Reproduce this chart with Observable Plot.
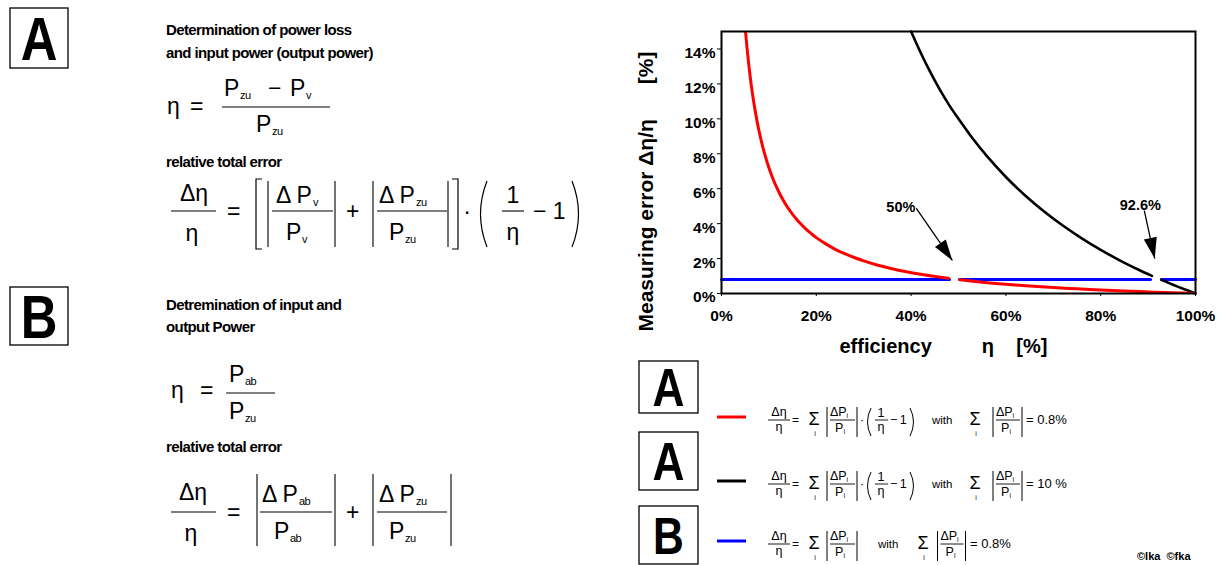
<!DOCTYPE html>
<html><head><meta charset="utf-8">
<script src="https://cdn.jsdelivr.net/npm/d3@7"></script>
<script src="https://cdn.jsdelivr.net/npm/@observablehq/plot@0.6"></script>
<style>
html,body{margin:0;padding:0;background:#fff;}
#wrap{position:relative;width:1231px;height:565px;overflow:hidden;font-family:"Liberation Sans",Arial,Helvetica,sans-serif;}
#chart{position:absolute;left:630px;top:0;}
#ov{position:absolute;left:0;top:0;}
</style></head><body><div id="wrap"><div id="chart"></div></div>
<script>
// ---------------- data ----------------
const etaTicks = [0, 20, 40, 60, 80, 100];
const errTicks = [0, 2, 4, 6, 8, 10, 12, 14];

// curve A, sum |dPi/Pi| = 0.8 %  (red)
const redEta1 = [5.0, 5.5, 6, 6.5, 7, 7.5, 8, 9, 10, 11, 12, 13, 14, 15, 16, 17, 18, 19, 20, 22, 24, 26, 28, 30, 33, 36, 39, 42, 45, 47.9];
const redErr1 = [15.2, 13.75, 12.53, 11.5, 10.63, 9.87, 9.2, 8.09, 7.2, 6.47, 5.87, 5.35, 4.91, 4.53, 4.2, 3.91, 3.64, 3.41, 3.2, 2.84, 2.53, 2.28, 2.06, 1.87, 1.62, 1.42, 1.25, 1.10, 0.98, 0.87];
const redEta2 = [50.3, 55, 60, 65, 70, 75, 80, 85, 90, 95, 100];
const redErr2 = [0.79, 0.65, 0.53, 0.43, 0.34, 0.27, 0.20, 0.14, 0.09, 0.04, 0.0];

// curve A, sum |dPi/Pi| = 10 %  (black)
const blackEta1 = [40, 42, 44, 46, 48, 50, 53, 56, 60, 64, 68, 72, 76, 80, 84, 88, 90.8];
const blackErr1 = [15.0, 13.8, 12.7, 11.7, 10.8, 10.0, 8.87, 7.86, 6.67, 5.63, 4.71, 3.89, 3.16, 2.5, 1.9, 1.36, 1.01];
const blackEta2 = [92.8, 95, 97.5, 100];
const blackErr2 = [0.78, 0.53, 0.26, 0.0];

// curve B, sum |dPi/Pi| = 0.8 %  (blue)
const blueEta1 = [0, 48.1], blueErr1 = [0.8, 0.8];
const blueEta2 = [50.2, 90.5], blueErr2 = [0.8, 0.8];
const blueEta3 = [92.8, 100], blueErr3 = [0.8, 0.8];

// annotations
const noteText = ["50%", "92.6%"];
const noteX = [40.9, 92.7], noteY = [4.92, 5.04];
const arrowX1 = [41.1, 89.2], arrowY1 = [4.87, 4.75];
const arrowX2 = [48.7, 91.4], arrowY2 = [1.89, 2.0];

const yLabel = "Measuring error \u0394\u03b7/\u03b7" + "\u00a0".repeat(6) + "[%]";
const xLabel = "efficiency" + "\u00a0".repeat(9) + "\u03b7" + "\u00a0".repeat(4) + "[%]";

// ---------------- build tables ----------------
const rows = [];
function addSeg(series, seg, etas, errs) { etas.forEach((e, i) => rows.push({series, seg: series + seg, eta: e, err: errs[i]})); }
addSeg("red", 1, redEta1, redErr1); addSeg("red", 2, redEta2, redErr2);
addSeg("black", 1, blackEta1, blackErr1); addSeg("black", 2, blackEta2, blackErr2);
addSeg("blue", 1, blueEta1, blueErr1); addSeg("blue", 2, blueEta2, blueErr2); addSeg("blue", 3, blueEta3, blueErr3);
const notes = noteText.map((t, i) => ({t, x: noteX[i], y: noteY[i], x1: arrowX1[i], y1: arrowY1[i], x2: arrowX2[i], y2: arrowY2[i]}));

const NS = "http://www.w3.org/2000/svg";
function headMarker(color, context) {
  const doc = (context && context.document) || document;
  const m = doc.createElementNS(NS, "marker");
  m.setAttribute("viewBox", "-22 -8 23 16");
  m.setAttribute("markerWidth", 23); m.setAttribute("markerHeight", 16);
  m.setAttribute("markerUnits", "userSpaceOnUse");
  m.setAttribute("refX", 0); m.setAttribute("refY", 0);
  m.setAttribute("orient", "auto");
  m.setAttribute("overflow", "visible");
  const p = doc.createElementNS(NS, "path");
  p.setAttribute("d", "M0,0L-21,-6.6L-21,6.6Z");
  p.setAttribute("fill", color); p.setAttribute("stroke", "none");
  m.appendChild(p);
  return m;
}

const FONT = "'Liberation Sans', Arial, Helvetica, sans-serif";
const chart = Plot.plot({
  width: 601, height: 370,
  marginLeft: 91, marginRight: 36, marginTop: 31, marginBottom: 77,
  style: {fontFamily: FONT, fontWeight: "bold", fontSize: "15.5px", background: "transparent", overflow: "visible", color: "#000"},
  x: {domain: [0, 100]},
  y: {domain: [0, 15]},
  marks: [
    Plot.axisX({ticks: etaTicks, tickSize: 3, tickPadding: 13, tickFormat: d => d + "%", label: null, fontSize: 15.5}),
    Plot.axisY({ticks: errTicks, tickSize: 4, tickFormat: () => "", label: null}),
    Plot.axisY({ticks: errTicks, tickSize: 0, tickPadding: 6, tickFormat: d => d + "%", label: null, dy: 4, fontSize: 15.5}),
    Plot.line(rows.filter(d => d.series === "blue"), {x: "eta", y: "err", z: "seg", stroke: "#0000ff", strokeWidth: 3}),
    Plot.line(rows.filter(d => d.series === "black"), {x: "eta", y: "err", z: "seg", stroke: "#000000", strokeWidth: 2.6, curve: "catmull-rom"}),
    Plot.line(rows.filter(d => d.series === "red"), {x: "eta", y: "err", z: "seg", stroke: "#ff0000", strokeWidth: 3, curve: "catmull-rom", clip: true}),
    Plot.frame({stroke: "#000", strokeWidth: 2}),
    Plot.link(notes, {x1: "x1", y1: "y1", x2: "x2", y2: "y2", stroke: "#000", strokeWidth: 1.3, markerEnd: headMarker}),
    Plot.text(notes, {x: "x", y: "y", text: "t", textAnchor: "end", fontSize: 14.5, fontWeight: "bold"}),
    Plot.text([yLabel], {text: d => d, frameAnchor: "left", rotate: -90, dx: -75, dy: 29, fontSize: 21, fontWeight: "bold", textAnchor: "middle"}),
    Plot.text([xLabel], {text: d => d, frameAnchor: "bottom-left", dx: 118, dy: 53, fontSize: 20, fontWeight: "bold", textAnchor: "start", lineAnchor: "middle"})
  ]
});
document.getElementById("chart").appendChild(chart);

// ---------------- formulas / legend (text) ----------------
const ov = d3.select("#wrap").append("svg").attr("id", "ov").attr("width", 1231).attr("height", 565)
  .attr("font-family", FONT).attr("fill", "#000");
function T(x, y, s, size, o = {}) {
  const t = ov.append("text").attr("font-size", size).text(s);
  if (o.sx) t.attr("transform", `translate(${x},${y}) scale(${o.sx},1)`);
  else t.attr("x", x).attr("y", y);
  if (o.anchor) t.attr("text-anchor", o.anchor);
  if (o.bold) t.attr("font-weight", "bold");
  if (o.ls != null) t.attr("letter-spacing", o.ls);
  return t;
}
function L(x1, y1, x2, y2, w = 1.1, c = "#000") {
  ov.append("line").attr("x1", x1).attr("y1", y1).attr("x2", x2).attr("y2", y2).attr("stroke", c).attr("stroke-width", w);
}
function Pth(d, w = 1.2) { ov.append("path").attr("d", d).attr("fill", "none").attr("stroke", "#000").attr("stroke-width", w); }
function box(x, y, w, h, letter, size, cy) {
  ov.append("rect").attr("x", x).attr("y", y).attr("width", w).attr("height", h).attr("fill", "none").attr("stroke", "#000").attr("stroke-width", 1.3);
  T(x + w / 2, (cy != null ? cy : y + h / 2) + size * 0.358, letter, size, {anchor: "middle", bold: true, sx: 0.82});
}
const F = 23, S = 11, H = 15;
const hs = {bold: true, ls: -0.6};

// ---- A (left) ----
box(10, 8, 58, 60, "A", 62);
T(166, 35, "Determination of power loss", H, hs);
T(166, 58, "and input power (output power)", H, hs);
T(167, 114, "\u03b7", F); T(190, 114, "=", F);
T(224, 96, "P", F); T(240, 99, "zu", S, {ls: -0.6});
T(268, 96, "\u2212", F); T(290, 96, "P", F); T(306, 99, "v", S);
L(222, 107, 330, 107);
T(256, 132, "P", F); T(272, 135, "zu", S, {ls: -0.6});
T(166, 167, "relative total error", H, hs);
T(194, 201, "\u0394\u03b7", F, {anchor: "middle"}); L(171, 211, 216, 211); T(192, 241, "\u03b7", F, {anchor: "middle"});
T(227, 219, "=", F);
Pth("M262,179H256V249H262");
L(268, 181, 268, 247);
T(276, 203, "\u0394 P", F); T(313, 206, "v", S); L(272, 211, 333, 211); T(286, 240, "P", F); T(302, 243, "v", S);
L(335, 181, 335, 247);
T(346, 219, "+", F);
L(373, 181, 373, 247);
T(379, 203, "\u0394 P", F); T(416, 206, "zu", S, {ls: -0.6}); L(377, 211, 447, 211); T(389, 240, "P", F); T(405, 243, "zu", S, {ls: -0.6});
L(448, 181, 448, 247);
Pth("M452,179H458V249H452");
T(467, 219, "\u00b7", F, {anchor: "middle"});
Pth("M487,181Q474,214 487,247");
T(513, 203, "1", F, {anchor: "middle"}); L(502, 211, 524, 211); T(513, 240, "\u03b7", F, {anchor: "middle"});
T(533, 219, "\u2212 1", F);
Pth("M572,181Q585,214 572,247");

// ---- B (left) ----
box(10, 287, 58, 58, "B", 62);
T(166, 310, "Detremination of input and", H, hs);
T(166, 332, "output Power", H, hs);
T(171, 398, "\u03b7", F); T(200, 398, "=", F);
T(229, 382, "P", F); T(245, 385, "ab", S, {ls: -0.6});
L(226, 393, 275, 393);
T(229, 419, "P", F); T(245, 422, "zu", S, {ls: -0.6});
T(166, 452, "relative total error", H, hs);
T(193, 500, "\u0394\u03b7", F, {anchor: "middle"}); L(171, 512, 216, 512); T(191, 541, "\u03b7", F, {anchor: "middle"});
T(227, 520, "=", F);
L(257, 474, 257, 546);
T(262, 502, "\u0394 P", F); T(299, 505, "ab", S, {ls: -0.6}); L(260, 512, 332, 512); T(274, 539, "P", F); T(290, 542, "ab", S, {ls: -0.6});
L(335, 474, 335, 546);
T(346, 520, "+", F);
L(373, 474, 373, 546);
T(379, 502, "\u0394 P", F); T(416, 505, "zu", S, {ls: -0.6}); L(377, 512, 447, 512); T(389, 539, "P", F); T(405, 542, "zu", S, {ls: -0.6});
L(451, 474, 451, 546);

// ---- legend ----
box(639, 361, 59, 52, "A", 54);
box(639, 432, 59, 58, "A", 54);
box(639, 506, 59, 58, "B", 52, 535);
const f = 12.5;
function absFrac(xl, xr, yb) {
  L(xl, yb - 13, xl, yb + 17, 1);
  T(xl + 3, yb - 4, "\u0394P", f); T(xl + 19.5, yb - 2, "i", 7);
  L(xl + 3, yb, xr - 2, yb, 0.9);
  T(xl + 8, yb + 12, "P", f); T(xl + 16.5, yb + 14, "i", 7);
  L(xr, yb - 13, xr, yb + 17, 1);
}
function sigma(x, yb) { T(x, yb + 5, "\u03a3", 18, {anchor: "middle"}); T(x + 1, yb + 16, "i", 7, {anchor: "middle"}); }
function lhs(yb) {
  T(779, yb - 4, "\u0394\u03b7", f, {anchor: "middle"}); L(768, yb, 790, yb, 0.9); T(779, yb + 11, "\u03b7", f, {anchor: "middle"});
  T(792, yb + 4, "=", 12);
  sigma(814, yb);
  absFrac(827, 857, yb);
}
function rowA(yb, color, w, value) {
  L(717, yb - 3, 746, yb - 3, w, color);
  lhs(yb);
  T(862, yb + 4, "\u00b7", 12, {anchor: "middle"});
  Pth(`M871,${yb - 12}Q864,${yb + 2} 871,${yb + 16}`, 1);
  T(881, yb - 3, "1", f, {anchor: "middle"}); L(875, yb, 888, yb, 0.9); T(881, yb + 11, "\u03b7", f, {anchor: "middle"});
  T(890, yb + 4, "\u2212\u20091", f);
  Pth(`M910,${yb - 12}Q917,${yb + 2} 910,${yb + 16}`, 1);
  T(932, yb + 4, "with", 11.5);
  sigma(975, yb);
  absFrac(993, 1022, yb);
  T(1026, yb + 4, value, 13);
}
rowA(420, "#ff0000", 3, "= 0.8%");
rowA(484, "#000000", 3, "= 10 %");
(function rowB(yb) {
  L(717, yb - 3, 746, yb - 3, 3, "#0000ff");
  lhs(yb);
  T(878, yb + 4, "with", 11.5);
  sigma(923, yb);
  absFrac(937.5, 965.5, yb);
  T(970, yb + 4, "= 0.8%", 13);
})(544);
T(1137, 560, "\u00a9lka\u00a0\u00a0\u00a9fka", 11, {bold: true});
</script></body></html>
